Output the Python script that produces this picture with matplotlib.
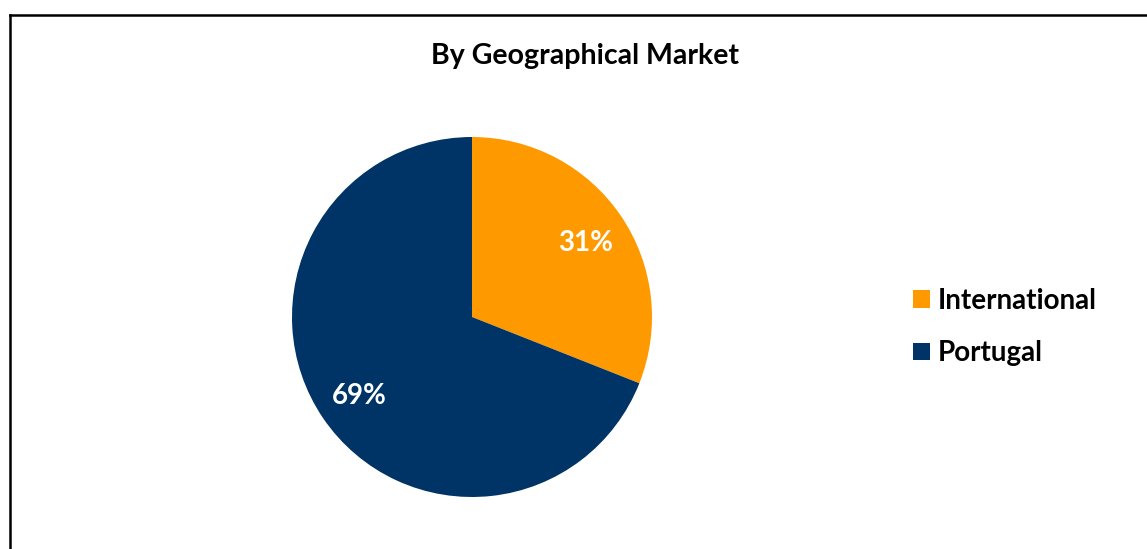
import matplotlib
matplotlib.use("Agg")
import matplotlib.pyplot as plt
from matplotlib.lines import Line2D

title = "By Geographical Market"
categories = ["International", "Portugal"]
values = [31, 69]
colors = ["#FF9900", "#003366"]

W, H = 1147, 549
fig = plt.figure(figsize=(W / 100, H / 100), dpi=100)
plt.rcParams['font.family'] = ['Lato', 'DejaVu Sans']

# border (left and top visible)
fig.add_artist(Line2D([10 / W, 10 / W], [0, 1 - 15 / H], transform=fig.transFigure, color="black", lw=1.8))
fig.add_artist(Line2D([10 / W, 1], [1 - 15 / H, 1 - 15 / H], transform=fig.transFigure, color="black", lw=1.8))

cx, cy, r = 472, 317, 180
ax = fig.add_axes([(cx - r) / W, (H - cy - r) / H, 2 * r / W, 2 * r / H])
wedges, texts, autotexts = ax.pie(values, colors=colors, startangle=90, counterclock=False,
                                  autopct='%d%%', pctdistance=0.76, radius=1,
                                  textprops=dict(color="white", fontsize=20, fontweight="bold"))
for t in autotexts:
    t.set_va("center_baseline")
ax.set_xlim(-1, 1)
ax.set_ylim(-1, 1)
ax.set_aspect('auto')
ax.axis('off')

fig.text(585 / W, 1 - 56 / H, title, ha="center", va="center", fontsize=20.5, fontweight="bold")

leg = fig.legend(wedges, categories, loc="center left", bbox_to_anchor=(913 / W, 1 - 327 / H),
                 frameon=False, prop=dict(weight="bold", size=20), borderpad=0, borderaxespad=0,
                 handlelength=0.6, handleheight=0.6, handletextpad=0.3, labelspacing=0.95)

fig.savefig("out.png", dpi=100)
